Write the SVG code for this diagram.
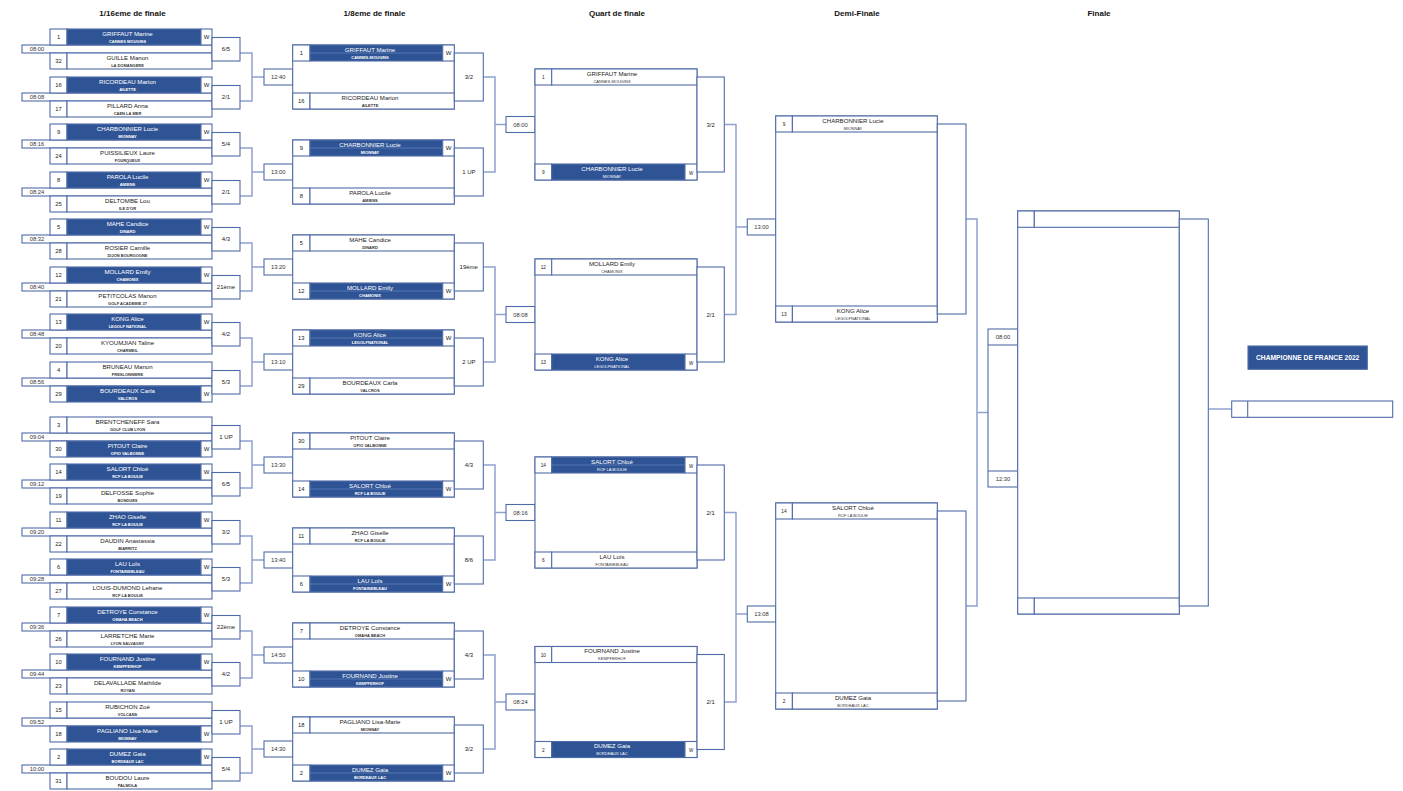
<svg xmlns="http://www.w3.org/2000/svg" width="1403" height="791" viewBox="0 0 1403 791">
<style>
text{font-family:"Liberation Sans",Arial,sans-serif;text-anchor:middle}
.b{fill:#fff;stroke:#506ca8;stroke-width:1.1}
.bl{fill:#2f5496;stroke:#506ca8;stroke-width:1.1}
.sep{stroke:#6d89c4;stroke-width:0.6}
.c{fill:none;stroke:#8fa3cf;stroke-width:1.5}
.hd{font-size:8px;font-weight:bold;fill:#111}
.nm{font-size:6.1px;fill:#1a1a1a}
.cl{font-size:4px;font-weight:bold;fill:#333}
.cq{font-size:4px;fill:#333}
.nw,.cw{fill:#fff}
.sd{font-size:5.8px;fill:#222}
.sq{font-size:4.8px;fill:#222}
.w{font-size:6px;fill:#222}
.wq{font-size:4.5px;fill:#222}
.tm{font-size:5.8px;fill:#333}
.sc{font-size:6px;fill:#222}
.ch{font-size:6.7px;font-weight:bold;fill:#fff}
</style>
<defs>
<g id="r1A">
<rect class="b" x="22" y="16" width="190" height="8"/>
<rect class="b" x="50" y="0" width="17" height="16"/>
<rect class="bl" x="67" y="0" width="134" height="16"/>
<rect class="b" x="201" y="0" width="11" height="16"/>
<rect class="b" x="50" y="24" width="17" height="16"/>
<rect class="b" x="67" y="24" width="145" height="16"/>
<rect class="b" x="212" y="8.5" width="28" height="23.5"/>
<text class="w" x="206.5" y="10">W</text>
</g>
<g id="r1B">
<rect class="b" x="22" y="16" width="190" height="8"/>
<rect class="b" x="50" y="0" width="17" height="16"/>
<rect class="b" x="67" y="0" width="145" height="16"/>
<rect class="b" x="50" y="24" width="17" height="16"/>
<rect class="bl" x="67" y="24" width="134" height="16"/>
<rect class="b" x="201" y="24" width="11" height="16"/>
<rect class="b" x="212" y="8.5" width="28" height="23.5"/>
<text class="w" x="206.5" y="34">W</text>
</g>
<g id="r2A">
<rect class="b" x="264" y="24" width="28.7" height="16"/>
<rect class="b" x="292.7" y="0" width="161.6" height="64"/>
<rect class="b" x="292.7" y="0" width="17.3" height="16"/>
<rect class="bl" x="310" y="0" width="132.7" height="16"/>
<line class="sep" x1="310" y1="8" x2="442.7" y2="8"/>
<rect class="b" x="442.7" y="0" width="11.6" height="16"/>
<rect class="b" x="292.7" y="48" width="17.3" height="16"/>
<rect class="b" x="310" y="48" width="144.3" height="16"/>
<rect class="b" x="454.3" y="8" width="29" height="48"/>
<text class="w" x="448.5" y="10">W</text>
</g>
<g id="r2B">
<rect class="b" x="264" y="24" width="28.7" height="16"/>
<rect class="b" x="292.7" y="0" width="161.6" height="64"/>
<rect class="b" x="292.7" y="0" width="17.3" height="16"/>
<rect class="b" x="310" y="0" width="144.3" height="16"/>
<rect class="b" x="292.7" y="48" width="17.3" height="16"/>
<rect class="bl" x="310" y="48" width="132.7" height="16"/>
<line class="sep" x1="310" y1="56" x2="442.7" y2="56"/>
<rect class="b" x="442.7" y="48" width="11.6" height="16"/>
<rect class="b" x="454.3" y="8" width="29" height="48"/>
<text class="w" x="448.5" y="58">W</text>
</g>
<g id="qA">
<rect class="b" x="506" y="47.5" width="29" height="16"/>
<rect class="b" x="535" y="0" width="162" height="111"/>
<rect class="b" x="535" y="0" width="16.7" height="16"/>
<rect class="bl" x="551.7" y="0" width="133.3" height="16"/>
<line class="sep" x1="551.7" y1="8" x2="685" y2="8"/>
<rect class="b" x="685" y="0" width="12" height="16"/>
<rect class="b" x="535" y="95" width="16.7" height="16"/>
<rect class="b" x="551.7" y="95" width="145.3" height="16"/>
<rect class="b" x="697" y="8" width="27.3" height="95"/>
<text class="wq" x="691" y="10.5">W</text>
</g>
<g id="qB">
<rect class="b" x="506" y="47.5" width="29" height="16"/>
<rect class="b" x="535" y="0" width="162" height="111"/>
<rect class="b" x="535" y="0" width="16.7" height="16"/>
<rect class="b" x="551.7" y="0" width="145.3" height="16"/>
<rect class="b" x="535" y="95" width="16.7" height="16"/>
<rect class="bl" x="551.7" y="95" width="133.3" height="16"/>
<rect class="b" x="685" y="95" width="12" height="16"/>
<rect class="b" x="697" y="8" width="27.3" height="95"/>
<text class="wq" x="691" y="105.5">W</text>
</g>
<g id="sf">
<rect class="b" x="747.3" y="103" width="28.4" height="16"/>
<rect class="b" x="775.7" y="0" width="161.6" height="206"/>
<rect class="b" x="775.7" y="0" width="16.7" height="16"/>
<rect class="b" x="792.4" y="0" width="144.9" height="16"/>
<rect class="b" x="775.7" y="190" width="16.7" height="16"/>
<rect class="b" x="792.4" y="190" width="144.9" height="16"/>
<rect class="b" x="937.3" y="8" width="28.7" height="190"/>
</g>
</defs>

<g id="headers">
<text class="hd" x="132.5" y="16">1/16eme de finale</text>
<text class="hd" x="374.5" y="16">1/8eme de finale</text>
<text class="hd" x="617" y="16">Quart de finale</text>
<text class="hd" x="857" y="16">Demi-Finale</text>
<text class="hd" x="1099" y="16">Finale</text>
</g>

<g id="connectors" class="c">
<path d="M240,53H252V101H240M252,77H264"/>
<path d="M240,148H252V196H240M252,172H264"/>
<path d="M240,243H252V291H240M252,267H264"/>
<path d="M240,338H252V386H240M252,362H264"/>
<path d="M240,441H252V488H240M252,465H264"/>
<path d="M240,536H252V583H240M252,560H264"/>
<path d="M240,631H252V678H240M252,655H264"/>
<path d="M240,726H252V773H240M252,749H264"/>
<path d="M483.3,77H495V172H483.3M495,124.5H506"/>
<path d="M483.3,267H495V362H483.3M495,314.5H506"/>
<path d="M483.3,465H495V560H483.3M495,512.5H506"/>
<path d="M483.3,655H495V749H483.3M495,702H506"/>
<path d="M724.3,124.5H736V314.5H724.3M736,227H747.3"/>
<path d="M724.3,512.5H736V702H724.3M736,614H747.3"/>
<path d="M966,219H977V606H966M977,412.5H988"/>
<path d="M1208.3,409H1231.7"/>
</g>

<g id="r1-m1" transform="translate(0,29)"><use href="#r1A"/>
<text class="sd" x="58.5" y="10">1</text><text class="nm nw" x="127.5" y="6.6">GRIFFAUT Marine</text><text class="cl cw" x="127.5" y="13.8">CANNES MOUGINS</text>
<text class="sd" x="58.5" y="34">32</text><text class="nm" x="127.5" y="30.6">GUILLE Manon</text><text class="cl" x="127.5" y="37.8">LA DOMANGERE</text>
<text class="tm" x="37" y="22.2">08:00</text><text class="sc" x="226" y="22.3">6/5</text></g>

<g id="r1-m2" transform="translate(0,77)"><use href="#r1A"/>
<text class="sd" x="58.5" y="10">16</text><text class="nm nw" x="127.5" y="6.6">RICORDEAU Marion</text><text class="cl cw" x="127.5" y="13.8">AILETTE</text>
<text class="sd" x="58.5" y="34">17</text><text class="nm" x="127.5" y="30.6">PILLARD Anna</text><text class="cl" x="127.5" y="37.8">CAEN LA MER</text>
<text class="tm" x="37" y="22.2">08:08</text><text class="sc" x="226" y="22.3">2/1</text></g>

<g id="r1-m3" transform="translate(0,124)"><use href="#r1A"/>
<text class="sd" x="58.5" y="10">9</text><text class="nm nw" x="127.5" y="6.6">CHARBONNIER Lucie</text><text class="cl cw" x="127.5" y="13.8">MIONNAY</text>
<text class="sd" x="58.5" y="34">24</text><text class="nm" x="127.5" y="30.6">PUISSILIEUX Laure</text><text class="cl" x="127.5" y="37.8">FOURQUEUX</text>
<text class="tm" x="37" y="22.2">08:16</text><text class="sc" x="226" y="22.3">5/4</text></g>

<g id="r1-m4" transform="translate(0,172)"><use href="#r1A"/>
<text class="sd" x="58.5" y="10">8</text><text class="nm nw" x="127.5" y="6.6">PAROLA Lucile</text><text class="cl cw" x="127.5" y="13.8">AMIENS</text>
<text class="sd" x="58.5" y="34">25</text><text class="nm" x="127.5" y="30.6">DELTOMBE Lou</text><text class="cl" x="127.5" y="37.8">ILE D'OR</text>
<text class="tm" x="37" y="22.2">08:24</text><text class="sc" x="226" y="22.3">2/1</text></g>

<g id="r1-m5" transform="translate(0,219)"><use href="#r1A"/>
<text class="sd" x="58.5" y="10">5</text><text class="nm nw" x="127.5" y="6.6">MAHE Candice</text><text class="cl cw" x="127.5" y="13.8">DINARD</text>
<text class="sd" x="58.5" y="34">28</text><text class="nm" x="127.5" y="30.6">ROSIER Camille</text><text class="cl" x="127.5" y="37.8">DIJON BOURGOGNE</text>
<text class="tm" x="37" y="22.2">08:32</text><text class="sc" x="226" y="22.3">4/3</text></g>

<g id="r1-m6" transform="translate(0,267)"><use href="#r1A"/>
<text class="sd" x="58.5" y="10">12</text><text class="nm nw" x="127.5" y="6.6">MOLLARD Emily</text><text class="cl cw" x="127.5" y="13.8">CHAMONIX</text>
<text class="sd" x="58.5" y="34">21</text><text class="nm" x="127.5" y="30.6">PETITCOLAS Manon</text><text class="cl" x="127.5" y="37.8">GOLF ACADEMIE 37</text>
<text class="tm" x="37" y="22.2">08:40</text><text class="sc" x="226" y="22.3">21ème</text></g>

<g id="r1-m7" transform="translate(0,314)"><use href="#r1A"/>
<text class="sd" x="58.5" y="10">13</text><text class="nm nw" x="127.5" y="6.6">KONG Alice</text><text class="cl cw" x="127.5" y="13.8">LEGOLF NATIONAL</text>
<text class="sd" x="58.5" y="34">20</text><text class="nm" x="127.5" y="30.6">KYOUMJIAN Taline</text><text class="cl" x="127.5" y="37.8">CHARMEIL</text>
<text class="tm" x="37" y="22.2">08:48</text><text class="sc" x="226" y="22.3">4/2</text></g>

<g id="r1-m8" transform="translate(0,362)"><use href="#r1B"/>
<text class="sd" x="58.5" y="10">4</text><text class="nm" x="127.5" y="6.6">BRUNEAU Manon</text><text class="cl" x="127.5" y="13.8">FRESLONNIERE</text>
<text class="sd" x="58.5" y="34">29</text><text class="nm nw" x="127.5" y="30.6">BOURDEAUX Carla</text><text class="cl cw" x="127.5" y="37.8">VALCROS</text>
<text class="tm" x="37" y="22.2">08:56</text><text class="sc" x="226" y="22.3">5/3</text></g>

<g id="r1-m9" transform="translate(0,417)"><use href="#r1B"/>
<text class="sd" x="58.5" y="10">3</text><text class="nm" x="127.5" y="6.6">BRENTCHENEFF Sara</text><text class="cl" x="127.5" y="13.8">GOLF CLUB LYON</text>
<text class="sd" x="58.5" y="34">30</text><text class="nm nw" x="127.5" y="30.6">PITOUT Claire</text><text class="cl cw" x="127.5" y="37.8">OPIO VALBONNE</text>
<text class="tm" x="37" y="22.2">09:04</text><text class="sc" x="226" y="22.3">1 UP</text></g>

<g id="r1-m10" transform="translate(0,464)"><use href="#r1A"/>
<text class="sd" x="58.5" y="10">14</text><text class="nm nw" x="127.5" y="6.6">SALORT Chloé</text><text class="cl cw" x="127.5" y="13.8">RCF LA BOULIE</text>
<text class="sd" x="58.5" y="34">19</text><text class="nm" x="127.5" y="30.6">DELFOSSE Sophie</text><text class="cl" x="127.5" y="37.8">BONDUES</text>
<text class="tm" x="37" y="22.2">09:12</text><text class="sc" x="226" y="22.3">6/5</text></g>

<g id="r1-m11" transform="translate(0,512)"><use href="#r1A"/>
<text class="sd" x="58.5" y="10">11</text><text class="nm nw" x="127.5" y="6.6">ZHAO Giselle</text><text class="cl cw" x="127.5" y="13.8">RCF LA BOULIE</text>
<text class="sd" x="58.5" y="34">22</text><text class="nm" x="127.5" y="30.6">DAUDIN Anastassia</text><text class="cl" x="127.5" y="37.8">BIARRITZ</text>
<text class="tm" x="37" y="22.2">09:20</text><text class="sc" x="226" y="22.3">3/2</text></g>

<g id="r1-m12" transform="translate(0,559)"><use href="#r1A"/>
<text class="sd" x="58.5" y="10">6</text><text class="nm nw" x="127.5" y="6.6">LAU Loïs</text><text class="cl cw" x="127.5" y="13.8">FONTAINEBLEAU</text>
<text class="sd" x="58.5" y="34">27</text><text class="nm" x="127.5" y="30.6">LOUIS-DUMOND Lehane</text><text class="cl" x="127.5" y="37.8">RCF LA BOULIE</text>
<text class="tm" x="37" y="22.2">09:28</text><text class="sc" x="226" y="22.3">5/3</text></g>

<g id="r1-m13" transform="translate(0,607)"><use href="#r1A"/>
<text class="sd" x="58.5" y="10">7</text><text class="nm nw" x="127.5" y="6.6">DETROYE Constance</text><text class="cl cw" x="127.5" y="13.8">OMAHA BEACH</text>
<text class="sd" x="58.5" y="34">26</text><text class="nm" x="127.5" y="30.6">LARRETCHE Marie</text><text class="cl" x="127.5" y="37.8">LYON SALVAGNY</text>
<text class="tm" x="37" y="22.2">09:36</text><text class="sc" x="226" y="22.3">22ème</text></g>

<g id="r1-m14" transform="translate(0,654)"><use href="#r1A"/>
<text class="sd" x="58.5" y="10">10</text><text class="nm nw" x="127.5" y="6.6">FOURNAND Justine</text><text class="cl cw" x="127.5" y="13.8">KEMPFERHOF</text>
<text class="sd" x="58.5" y="34">23</text><text class="nm" x="127.5" y="30.6">DELAVALLADE Mathilde</text><text class="cl" x="127.5" y="37.8">ROYAN</text>
<text class="tm" x="37" y="22.2">09:44</text><text class="sc" x="226" y="22.3">4/2</text></g>

<g id="r1-m15" transform="translate(0,702)"><use href="#r1B"/>
<text class="sd" x="58.5" y="10">15</text><text class="nm" x="127.5" y="6.6">RUBICHON Zoé</text><text class="cl" x="127.5" y="13.8">VOLCANS</text>
<text class="sd" x="58.5" y="34">18</text><text class="nm nw" x="127.5" y="30.6">PAGLIANO Lisa-Marie</text><text class="cl cw" x="127.5" y="37.8">MIONNAY</text>
<text class="tm" x="37" y="22.2">09:52</text><text class="sc" x="226" y="22.3">1 UP</text></g>

<g id="r1-m16" transform="translate(0,749)"><use href="#r1A"/>
<text class="sd" x="58.5" y="10">2</text><text class="nm nw" x="127.5" y="6.6">DUMEZ Gaia</text><text class="cl cw" x="127.5" y="13.8">BORDEAUX LAC</text>
<text class="sd" x="58.5" y="34">31</text><text class="nm" x="127.5" y="30.6">BOUDOU Laure</text><text class="cl" x="127.5" y="37.8">PALMOLA</text>
<text class="tm" x="37" y="22.2">10:00</text><text class="sc" x="226" y="22.3">5/4</text></g>

<g id="r2-m1" transform="translate(0,45)"><use href="#r2A"/>
<text class="sd" x="301.3" y="10">1</text><text class="nm nw" x="370" y="6.6">GRIFFAUT Marine</text><text class="cl cw" x="370" y="13.8">CANNES-MOUGINS</text>
<text class="sd" x="301.3" y="58">16</text><text class="nm" x="370" y="54.6">RICORDEAU Marion</text><text class="cl" x="370" y="61.8">AILETTE</text>
<text class="tm" x="278.3" y="34.1">12:40</text><text class="sc" x="468.8" y="34.1">3/2</text></g>

<g id="r2-m2" transform="translate(0,140)"><use href="#r2A"/>
<text class="sd" x="301.3" y="10">9</text><text class="nm nw" x="370" y="6.6">CHARBONNIER Lucie</text><text class="cl cw" x="370" y="13.8">MIONNAY</text>
<text class="sd" x="301.3" y="58">8</text><text class="nm" x="370" y="54.6">PAROLA Lucile</text><text class="cl" x="370" y="61.8">AMIENS</text>
<text class="tm" x="278.3" y="34.1">13:00</text><text class="sc" x="468.8" y="34.1">1 UP</text></g>

<g id="r2-m3" transform="translate(0,235)"><use href="#r2B"/>
<text class="sd" x="301.3" y="10">5</text><text class="nm" x="370" y="6.6">MAHE Candice</text><text class="cl" x="370" y="13.8">DINARD</text>
<text class="sd" x="301.3" y="58">12</text><text class="nm nw" x="370" y="54.6">MOLLARD Emily</text><text class="cl cw" x="370" y="61.8">CHAMONIX</text>
<text class="tm" x="278.3" y="34.1">13:20</text><text class="sc" x="468.8" y="34.1">19ème</text></g>

<g id="r2-m4" transform="translate(0,330)"><use href="#r2A"/>
<text class="sd" x="301.3" y="10">13</text><text class="nm nw" x="370" y="6.6">KONG Alice</text><text class="cl cw" x="370" y="13.8">LEGOLFNATIONAL</text>
<text class="sd" x="301.3" y="58">29</text><text class="nm" x="370" y="54.6">BOURDEAUX Carla</text><text class="cl" x="370" y="61.8">VALCROS</text>
<text class="tm" x="278.3" y="34.1">13:10</text><text class="sc" x="468.8" y="34.1">2 UP</text></g>

<g id="r2-m5" transform="translate(0,433)"><use href="#r2B"/>
<text class="sd" x="301.3" y="10">30</text><text class="nm" x="370" y="6.6">PITOUT Claire</text><text class="cl" x="370" y="13.8">OPIO VALBONNE</text>
<text class="sd" x="301.3" y="58">14</text><text class="nm nw" x="370" y="54.6">SALORT Chloé</text><text class="cl cw" x="370" y="61.8">RCF LA BOULIE</text>
<text class="tm" x="278.3" y="34.1">13:30</text><text class="sc" x="468.8" y="34.1">4/3</text></g>

<g id="r2-m6" transform="translate(0,528)"><use href="#r2B"/>
<text class="sd" x="301.3" y="10">11</text><text class="nm" x="370" y="6.6">ZHAO Giselle</text><text class="cl" x="370" y="13.8">RCF LA BOULIE</text>
<text class="sd" x="301.3" y="58">6</text><text class="nm nw" x="370" y="54.6">LAU Loïs</text><text class="cl cw" x="370" y="61.8">FONTAINEBLEAU</text>
<text class="tm" x="278.3" y="34.1">13:40</text><text class="sc" x="468.8" y="34.1">8/6</text></g>

<g id="r2-m7" transform="translate(0,623)"><use href="#r2B"/>
<text class="sd" x="301.3" y="10">7</text><text class="nm" x="370" y="6.6">DETROYE Constance</text><text class="cl" x="370" y="13.8">OMAHA BEACH</text>
<text class="sd" x="301.3" y="58">10</text><text class="nm nw" x="370" y="54.6">FOURNAND Justine</text><text class="cl cw" x="370" y="61.8">KEMPFERHOF</text>
<text class="tm" x="278.3" y="34.1">14:50</text><text class="sc" x="468.8" y="34.1">4/3</text></g>

<g id="r2-m8" transform="translate(0,717)"><use href="#r2B"/>
<text class="sd" x="301.3" y="10">18</text><text class="nm" x="370" y="6.6">PAGLIANO Lisa-Marie</text><text class="cl" x="370" y="13.8">MIONNAY</text>
<text class="sd" x="301.3" y="58">2</text><text class="nm nw" x="370" y="54.6">DUMEZ Gaia</text><text class="cl cw" x="370" y="61.8">BORDEAUX LAC</text>
<text class="tm" x="278.3" y="34.1">14:30</text><text class="sc" x="468.8" y="34.1">3/2</text></g>

<g id="qf-m1" transform="translate(0,69)"><use href="#qB"/>
<text class="sq" x="543.3" y="10">1</text><text class="nm" x="612" y="6.6">GRIFFAUT Marine</text><text class="cq" x="612" y="13.6">CANNES-MOUGINS</text>
<text class="sq" x="543.3" y="105">9</text><text class="nm nw" x="612" y="101.6">CHARBONNIER Lucie</text><text class="cq cw" x="612" y="108.6">MIONNAY</text>
<text class="tm" x="520.5" y="57.5">08:00</text><text class="sc" x="710.6" y="57.7">3/2</text></g>

<g id="qf-m2" transform="translate(0,259)"><use href="#qB"/>
<text class="sq" x="543.3" y="10">12</text><text class="nm" x="612" y="6.6">MOLLARD Emily</text><text class="cq" x="612" y="13.6">CHAMONIX</text>
<text class="sq" x="543.3" y="105">13</text><text class="nm nw" x="612" y="101.6">KONG Alice</text><text class="cq cw" x="612" y="108.6">LEGOLFNATIONAL</text>
<text class="tm" x="520.5" y="57.5">08:08</text><text class="sc" x="710.6" y="57.7">2/1</text></g>

<g id="qf-m3" transform="translate(0,457)"><use href="#qA"/>
<text class="sq" x="543.3" y="10">14</text><text class="nm nw" x="612" y="6.6">SALORT Chloé</text><text class="cq cw" x="612" y="13.6">RCF LA BOULIE</text>
<text class="sq" x="543.3" y="105">6</text><text class="nm" x="612" y="101.6">LAU Loïs</text><text class="cq" x="612" y="108.6">FONTAINEBLEAU</text>
<text class="tm" x="520.5" y="57.5">08:16</text><text class="sc" x="710.6" y="57.7">2/1</text></g>

<g id="qf-m4" transform="translate(0,646.5)"><use href="#qB"/>
<text class="sq" x="543.3" y="10">10</text><text class="nm" x="612" y="6.6">FOURNAND Justine</text><text class="cq" x="612" y="13.6">KEMPFERHOF</text>
<text class="sq" x="543.3" y="105">2</text><text class="nm nw" x="612" y="101.6">DUMEZ Gaia</text><text class="cq cw" x="612" y="108.6">BORDEAUX LAC</text>
<text class="tm" x="520.5" y="57.5">08:24</text><text class="sc" x="710.6" y="57.7">2/1</text></g>

<g id="sf-m1" transform="translate(0,116)"><use href="#sf"/>
<text class="sq" x="784" y="10">9</text><text class="nm" x="853" y="6.6">CHARBONNIER Lucie</text><text class="cq" x="853" y="13.6">MIONNAY</text>
<text class="sq" x="784" y="200">13</text><text class="nm" x="853" y="196.6">KONG Alice</text><text class="cq" x="853" y="203.6">LEGOLFNATIONAL</text>
<text class="tm" x="761.5" y="113">13:00</text></g>

<g id="sf-m2" transform="translate(0,503)"><use href="#sf"/>
<text class="sq" x="784" y="10">14</text><text class="nm" x="853" y="6.6">SALORT Chloé</text><text class="cq" x="853" y="13.6">RCF LA BOULIE</text>
<text class="sq" x="784" y="200">2</text><text class="nm" x="853" y="196.6">DUMEZ Gaia</text><text class="cq" x="853" y="203.6">BORDEAUX LAC</text>
<text class="tm" x="761.5" y="113">13:08</text></g>

<g id="final">
<rect class="b" x="988" y="329" width="29.7" height="158"/>
<line class="b" x1="988" y1="345" x2="1017.7" y2="345"/>
<line class="b" x1="988" y1="471" x2="1017.7" y2="471"/>
<text class="tm" x="1003" y="339">08:00</text>
<text class="tm" x="1003" y="481">12:30</text>
<rect class="b" x="1017.7" y="211" width="161.6" height="403"/>
<rect class="b" x="1017.7" y="211" width="16.6" height="16.3"/>
<rect class="b" x="1034.3" y="211" width="145" height="16.3"/>
<rect class="b" x="1017.7" y="598" width="16.6" height="16"/>
<rect class="b" x="1034.3" y="598" width="145" height="16"/>
<rect class="b" x="1179.3" y="219" width="29" height="387"/>
</g>

<g id="champion">
<rect class="bl" x="1248" y="346" width="119.3" height="23.3"/>
<text class="ch" x="1307.7" y="359.8">CHAMPIONNE DE FRANCE 2022</text>
<rect class="b" x="1231.7" y="401" width="161" height="16.3"/>
<line class="b" x1="1247.7" y1="401" x2="1247.7" y2="417.3"/>
</g>
</svg>
